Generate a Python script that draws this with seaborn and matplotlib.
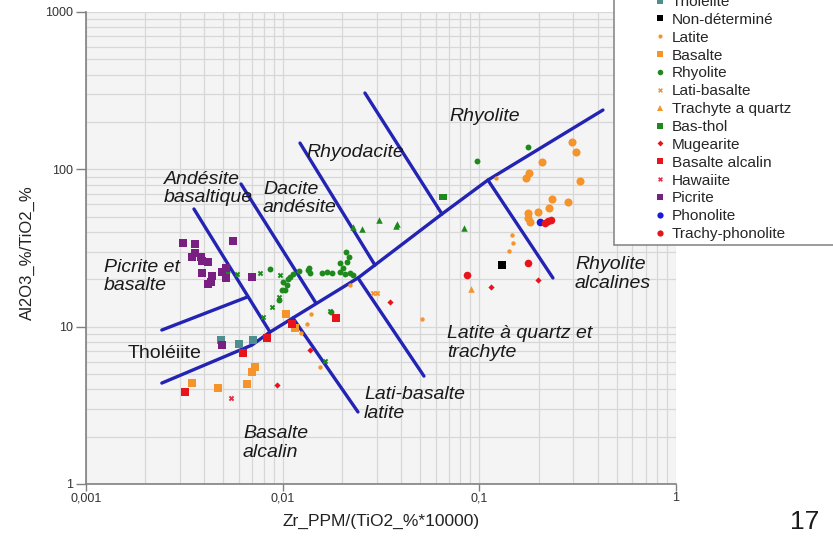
import matplotlib
matplotlib.use("Agg")
import matplotlib.pyplot as plt
from matplotlib.lines import Line2D
from matplotlib.patches import Rectangle
from matplotlib.ticker import FixedLocator, FixedFormatter, LogLocator, NullFormatter
import seaborn as sns
import pandas as pd

# ---- samples: Zr_PPM/(TiO2_%*10000) (x) vs Al2O3_%/TiO2_% (y) ----
tholeiite_x = [0.00486, 0.00600, 0.00706]
tholeiite_y = [8.22, 7.75, 8.22]

non_determine_x = [0.1303]
non_determine_y = [24.6]

latite_x = [0.01393, 0.0133, 0.0124, 0.01548, 0.02199, 0.05108, 0.1465, 0.1482, 0.1414, 0.1215]
latite_y = [12.0, 10.4, 9.11, 5.54, 18.4, 11.2, 38.2, 34.0, 30.3, 88.0]

latite_rich_x = [0.2957, 0.3099, 0.2081, 0.1788, 0.1726, 0.3248, 0.2340, 0.2822, 0.2259,
                 0.1986, 0.1767, 0.1767, 0.1809]
latite_rich_y = [149.2, 128.8, 111.3, 94.7, 88.0, 84.3, 64.7, 61.9, 56.8, 53.5, 52.7, 49.0, 46.2]

basalte_x = [0.00346, 0.00469, 0.00658, 0.00698, 0.00723, 0.0104, 0.01155]
basalte_y = [4.38, 4.07, 4.32, 5.15, 5.54, 12.0, 9.80]

rhyolite_x = [0.00521, 0.00862, 0.01004, 0.01064, 0.01089, 0.01128, 0.0121, 0.01345, 0.0136,
              0.01377, 0.01585, 0.0168, 0.0178, 0.01956, 0.01956, 0.02026, 0.02123, 0.02098,
              0.02173, 0.02199, 0.02074, 0.02278, 0.01052, 0.01027, 0.00992, 0.00957, 0.0176,
              0.09723, 0.1767]
rhyolite_y = [22.2, 23.2, 19.2, 20.1, 20.7, 21.6, 22.6, 22.9, 23.6, 21.9, 21.9, 22.2, 21.9,
              22.2, 25.4, 23.6, 25.7, 29.8, 27.7, 21.9, 21.6, 21.3, 18.4, 17.1, 17.1, 14.8,
              12.4, 112.9, 138.6]

green_cross_x = [0.00586, 0.00767, 0.00882, 0.00957, 0.00794, 0.0097, 0.0174, 0.01641]
green_cross_y = [21.6, 21.9, 13.3, 15.4, 11.5, 21.3, 12.6, 6.04]

green_triangle_x = [0.02278, 0.0253, 0.03087, 0.03811, 0.03767, 0.08352]
green_triangle_y = [43.0, 41.7, 47.6, 44.9, 43.6, 42.4]

lati_basalte_x = [0.02878, 0.03016]
lati_basalte_y = [16.4, 16.4]

trachyte_quartz_x = [0.0906]
trachyte_quartz_y = [17.3]

bas_thol_x = [0.06455, 0.0665]
bas_thol_y = [66.7, 66.7]

mugearite_x = [0.00935, 0.01377, 0.03512, 0.1146, 0.1986]
mugearite_y = [4.26, 7.10, 14.3, 17.9, 19.8]

basalte_alcalin_x = [0.00319, 0.00628, 0.00832, 0.01115, 0.01866]
basalte_alcalin_y = [3.84, 6.80, 8.47, 10.4, 11.3]

hawaiite_x = [0.00546]
hawaiite_y = [3.52]

picrite_x = [0.00311, 0.00358, 0.00559, 0.00358, 0.00346, 0.00384, 0.00389, 0.00417, 0.00389,
             0.00437, 0.00417, 0.00432, 0.00491, 0.00515, 0.00515, 0.00698, 0.00491]
picrite_y = [34.0, 33.5, 35.0, 29.4, 27.7, 27.7, 26.1, 25.7, 21.9, 21.0, 18.7, 19.2, 22.2,
             23.6, 20.4, 20.7, 7.64]

phonolite_x = [0.2033]
phonolite_y = [46.2]

trachy_phonolite_x = [0.0865, 0.1767, 0.2156, 0.2233, 0.2313]
trachy_phonolite_y = [21.3, 25.4, 45.6, 46.9, 47.6]

# ---- field boundaries ----
boundaries = [
    ([0.00243, 0.00698, 0.00862, 0.02415, 0.06455, 0.1106, 0.4251],
     [4.38, 7.64, 9.24, 20.4, 52.0, 85.5, 238.2]),
    ([0.00354, 0.00862], [55.95, 9.24]),
    ([0.00243, 0.00658], [9.52, 15.4]),
    ([0.00614, 0.01477], [80.7, 14.1]),
    ([0.01225, 0.02947], [146.9, 24.6]),
    ([0.0262, 0.06455], [305.6, 52.0]),
    ([0.1106, 0.2367], [85.5, 20.4]),
    ([0.01128, 0.02415], [11.34, 2.87]),
    ([0.02415, 0.05229], [20.4, 4.85]),
]

# ---- field names ----
field_labels = [
    ("Rhyolite", 0.1068, 218.0, "center", "italic"),
    ("Rhyodacite", 0.02332, 128.8, "center", "italic"),
    ("Andésite\nbasaltique", 0.002493, 75.9, "left", "italic"),
    ("Dacite\nandésite", 0.00794, 65.2, "left", "italic"),
    ("Picrite et\nbasalte", 0.001234, 20.8, "left", "italic"),
    ("Tholéiite", 0.001635, 6.80, "left", "normal"),
    ("Rhyolite\nalcalines", 0.3063, 21.6, "left", "italic"),
    ("Latite à quartz et\ntrachyte", 0.06843, 7.87, "left", "italic"),
    ("Lati-basalte\nlatite", 0.02591, 3.22, "left", "italic"),
    ("Basalte\nalcalin", 0.00628, 1.82, "left", "italic"),
]

x_ticks = [0.001, 0.01, 0.1, 1]
x_tick_labels = ["0,001", "0,01", "0,1", "1"]
y_ticks = [1, 10, 100, 1000]
y_tick_labels = ["1", "10", "100", "1000"]

ORANGE = "#f5942a"
GREEN = "#1e8a1e"
RED = "#e8141c"

# (label, x, y, marker, colour, scatter size, legend marker size, shown in legend)
groups = [
    ("Tholéiite", tholeiite_x, tholeiite_y, "s", "#4f8e8e", 30, 4.5, True),
    ("Non-déterminé", non_determine_x, non_determine_y, "s", "#000000", 30, 4.5, True),
    ("Latite", latite_x, latite_y, "o", ORANGE, 10, 3.0, True),
    ("Basalte", basalte_x, basalte_y, "s", ORANGE, 30, 4.5, True),
    ("Rhyolite", rhyolite_x, rhyolite_y, "o", GREEN, 18, 4.0, True),
    ("Lati-basalte", lati_basalte_x, lati_basalte_y, "X", ORANGE, 16, 3.5, True),
    ("Trachyte a quartz", trachyte_quartz_x, trachyte_quartz_y, "^", ORANGE, 22, 4.0, True),
    ("Bas-thol", bas_thol_x, bas_thol_y, "s", GREEN, 22, 4.5, True),
    ("Mugearite", mugearite_x, mugearite_y, "D", RED, 10, 3.0, True),
    ("Basalte alcalin", basalte_alcalin_x, basalte_alcalin_y, "s", RED, 30, 4.5, True),
    ("Hawaiite", hawaiite_x, hawaiite_y, "X", "#e0304a", 16, 3.5, True),
    ("Picrite", picrite_x, picrite_y, "s", "#7a1f82", 30, 4.5, True),
    ("Phonolite", phonolite_x, phonolite_y, "o", "#1a1ad8", 30, 4.5, True),
    ("Trachy-phonolite", trachy_phonolite_x, trachy_phonolite_y, "o", RED, 30, 4.5, True),
    ("_latite_rich", latite_rich_x, latite_rich_y, "o", ORANGE, 34, 0, False),
    ("_green_cross", green_cross_x, green_cross_y, "X", GREEN, 16, 0, False),
    ("_green_triangle", green_triangle_x, green_triangle_y, "^", GREEN, 22, 0, False),
]

sns.set_style("whitegrid", {
    "axes.facecolor": "#f4f4f4",
    "grid.color": "#d7d7d7",
    "axes.edgecolor": "#808080",
})
plt.rcParams["font.family"] = ["Liberation Sans", "DejaVu Sans"]

fig = plt.figure(figsize=(8.33, 5.39), dpi=100)
ax = fig.add_axes([86 / 833, 1 - 484 / 539, 590 / 833, 472 / 539])
ax.set_xscale("log")
ax.set_yscale("log")

for bx, by in boundaries:
    sns.lineplot(x=bx, y=by, ax=ax, sort=False, estimator=None, color="#2323b4",
                 linewidth=2.4, zorder=2)

for label, xs, ys, marker, colour, size, _, _ in groups:
    df = pd.DataFrame({"x": xs, "y": ys})
    sns.scatterplot(data=df, x="x", y="y", ax=ax, marker=marker, color=colour, s=size,
                    linewidth=0, zorder=3, legend=False)

ax.set_xlim(0.001, 1)
ax.set_ylim(1, 1000)

ax.xaxis.set_major_locator(FixedLocator(x_ticks))
ax.xaxis.set_major_formatter(FixedFormatter(x_tick_labels))
ax.yaxis.set_major_locator(FixedLocator(y_ticks))
ax.yaxis.set_major_formatter(FixedFormatter(y_tick_labels))
for axis in (ax.xaxis, ax.yaxis):
    axis.set_minor_locator(LogLocator(base=10, subs=range(2, 10)))
    axis.set_minor_formatter(NullFormatter())
ax.grid(True, which="both", color="#d7d7d7", linewidth=0.9)
ax.tick_params(axis="both", which="minor", length=0)
ax.tick_params(axis="y", which="major", length=7, width=1, color="#808080",
               labelsize=9, pad=2, labelcolor="#333333", left=True)
ax.tick_params(axis="x", which="major", length=5, width=1, color="#808080",
               labelsize=9, pad=1, labelcolor="#333333", bottom=True)

for side in ("top", "right"):
    ax.spines[side].set_visible(False)
for side in ("left", "bottom"):
    ax.spines[side].set_color("#808080")
    ax.spines[side].set_linewidth(1.2)

ax.set_xlabel("Zr_PPM/(TiO2_%*10000)", fontsize=12.5, color="#222222")
ax.set_ylabel("Al2O3_%/TiO2_%", fontsize=12, color="#222222")
ax.xaxis.set_label_coords(0.5, -0.064)
ax.yaxis.set_label_coords(-0.086, 0.49)

for text, tx, ty, ha, style in field_labels:
    ax.text(tx, ty, text, ha=ha, va="center", fontsize=14, style=style,
            color="#1a1a1a", linespacing=1.1, zorder=4)

# legend panel
fig.add_artist(Rectangle((614 / 833, 1 - 245 / 539), 0.4, 0.6,
                         transform=fig.transFigure, facecolor="white",
                         edgecolor="#8a8a8a", linewidth=1.2, zorder=4))
handles = [Line2D([], [], linestyle="", marker=m, color=c, markersize=ms,
                  markeredgewidth=0, label=lab)
           for lab, _, _, m, c, _, ms, show in groups if show]
fig.legend(handles=handles, loc="lower left", bbox_to_anchor=(638 / 833, 1 - 255 / 539),
           bbox_transform=fig.transFigure, frameon=False, fontsize=11.1,
           handlelength=1.0, handletextpad=0.3, labelspacing=0.25, borderpad=0.4)

fig.text(805 / 833, 1 - 522 / 539, "17", fontsize=19, ha="center", va="center",
         color="#1a1a1a")

fig.savefig("out.png", dpi=100)
